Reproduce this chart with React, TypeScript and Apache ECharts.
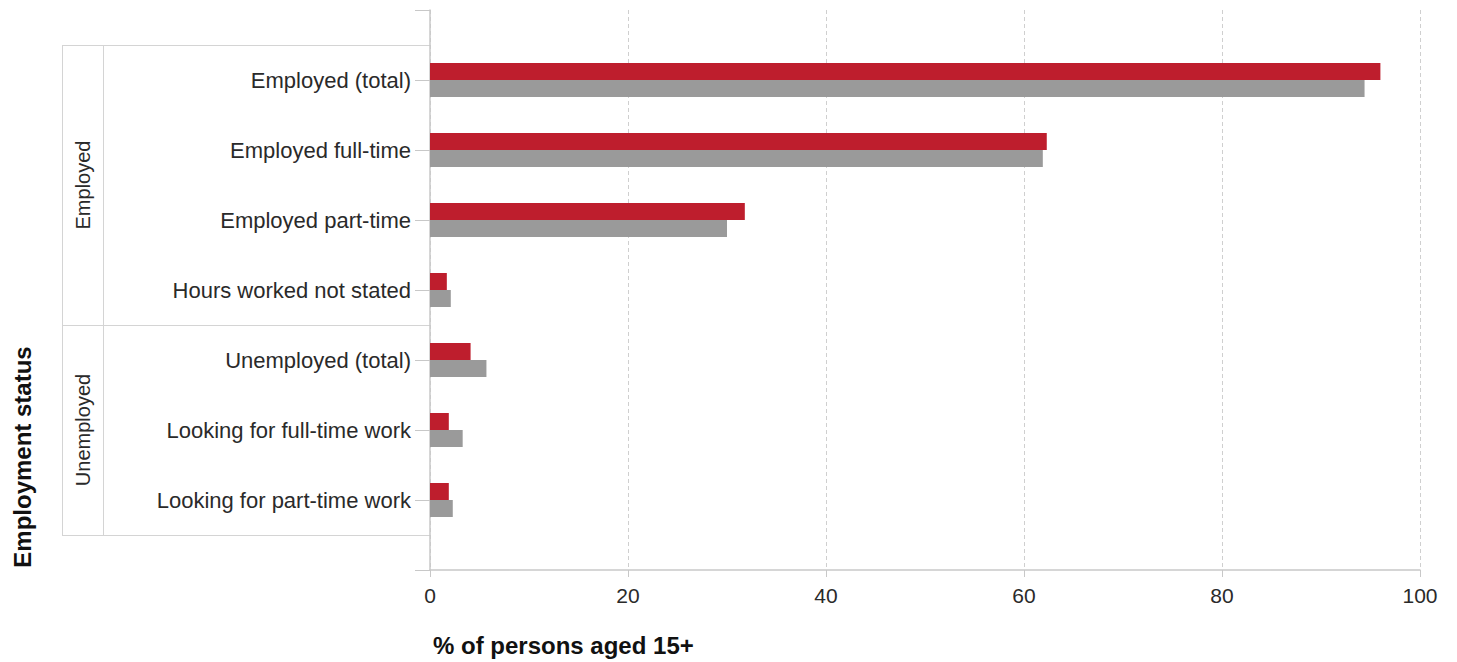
import React, { useEffect, useRef } from "react";
import * as echarts from "echarts";

const categories = [
  "Employed (total)",
  "Employed full-time",
  "Employed part-time",
  "Hours worked not stated",
  "Unemployed (total)",
  "Looking for full-time work",
  "Looking for part-time work",
];
const redValues = [96.0, 62.3, 31.8, 1.7, 4.1, 1.9, 1.9];
const greyValues = [94.4, 61.9, 30.0, 2.1, 5.7, 3.3, 2.3];
const groups = [
  { name: "Employed", count: 4 },
  { name: "Unemployed", count: 3 },
];
const xTicks = { min: 0, max: 100, interval: 20 };
const xTitle = "% of persons aged 15+";
const yTitle = "Employment status";

const GRID_LEFT = 430;
const GRID_TOP = 10;
const GRID_W = 990;
const GRID_H = 560;
const BOX_LEFT = 62;
const BOX_INNER = 103;
const LINE = "#d4d4d4";
const FONT = "'Liberation Sans', Arial, sans-serif";

export default function App() {
  const ref = useRef<HTMLDivElement>(null);
  useEffect(() => {
    if (!ref.current) return;
    const chart = echarts.init(ref.current, null, { renderer: "svg" });
    const yData = ["", ...categories, ""];
    const band = GRID_H / (yData.length - 1);
    const graphics: any[] = [];
    const top0 = GRID_TOP + band / 2;
    const bottom0 = top0 + categories.length * band;
    const hline = (y: number) => ({
      type: "line",
      shape: { x1: BOX_LEFT, y1: y, x2: GRID_LEFT, y2: y },
      style: { stroke: LINE, lineWidth: 1 },
      silent: true,
    });
    graphics.push(hline(Math.round(top0) + 0.5));
    let cur = top0;
    groups.forEach((g) => {
      const start = cur;
      const end = cur + g.count * band;
      graphics.push(hline(Math.round(end) + 0.5));
      graphics.push({
        type: "text",
        x: (BOX_LEFT + BOX_INNER) / 2,
        y: (start + end) / 2,
        rotation: Math.PI / 2,
        style: {
          text: g.name,
          fontSize: 20,
          fontFamily: FONT,
          fill: "#2a2a2a",
          align: "center",
          verticalAlign: "middle",
        },
      });
      cur = end;
    });
    [BOX_LEFT, BOX_INNER].forEach((x) =>
      graphics.push({
        type: "line",
        shape: { x1: x + 0.5, y1: Math.round(top0), x2: x + 0.5, y2: Math.round(bottom0) + 1 },
        style: { stroke: LINE, lineWidth: 1 },
        silent: true,
      })
    );
    graphics.push({
      type: "text",
      x: 22,
      y: 457,
      rotation: Math.PI / 2,
      style: {
        text: yTitle,
        fontSize: 24,
        fontWeight: "bold",
        fontFamily: FONT,
        fill: "#111",
        align: "center",
        verticalAlign: "middle",
      },
    });
    graphics.push({
      type: "text",
      x: 433,
      y: 645,
      style: {
        text: xTitle,
        fontSize: 24,
        fontWeight: "bold",
        fontFamily: FONT,
        fill: "#111",
        align: "left",
        verticalAlign: "middle",
      },
    });

    chart.setOption({
      animation: false,
      grid: { left: GRID_LEFT, top: GRID_TOP, width: GRID_W, height: GRID_H, containLabel: false },
      xAxis: {
        type: "value",
        min: xTicks.min,
        max: xTicks.max,
        interval: xTicks.interval,
        axisLine: { show: true, lineStyle: { color: "#c8c8c8", width: 1.5 } },
        axisTick: { show: true, length: 7, lineStyle: { color: "#c8c8c8" } },
        axisLabel: { fontSize: 21, color: "#2a2a2a", fontFamily: FONT, margin: 15 },
        splitLine: { show: true, lineStyle: { color: "#cfcfcf", type: [4, 3], width: 1 } },
      },
      yAxis: {
        type: "category",
        inverse: true,
        boundaryGap: false,
        data: yData,
        axisLine: { show: true, lineStyle: { color: "#c8c8c8", width: 1.5 } },
        axisTick: { show: true, length: 15, lineStyle: { color: "#c8c8c8" } },
        axisLabel: { fontSize: 22, color: "#2a2a2a", fontFamily: FONT, margin: 19 },
        splitLine: { show: false },
      },
      series: [
        {
          type: "bar",
          data: [null, ...redValues, null],
          barWidth: 17,
          barGap: "0%",
          itemStyle: { color: "#be1e2d" },
        },
        {
          type: "bar",
          data: [null, ...greyValues, null],
          barWidth: 17,
          barGap: "0%",
          itemStyle: { color: "#9a9a9a" },
        },
      ],
      graphic: graphics,
    });
    return () => chart.dispose();
  }, []);
  return (
    <div
      ref={ref}
      style={{ position: "fixed", left: 0, top: 0, width: 1457, height: 662, background: "#fff" }}
    />
  );
}
